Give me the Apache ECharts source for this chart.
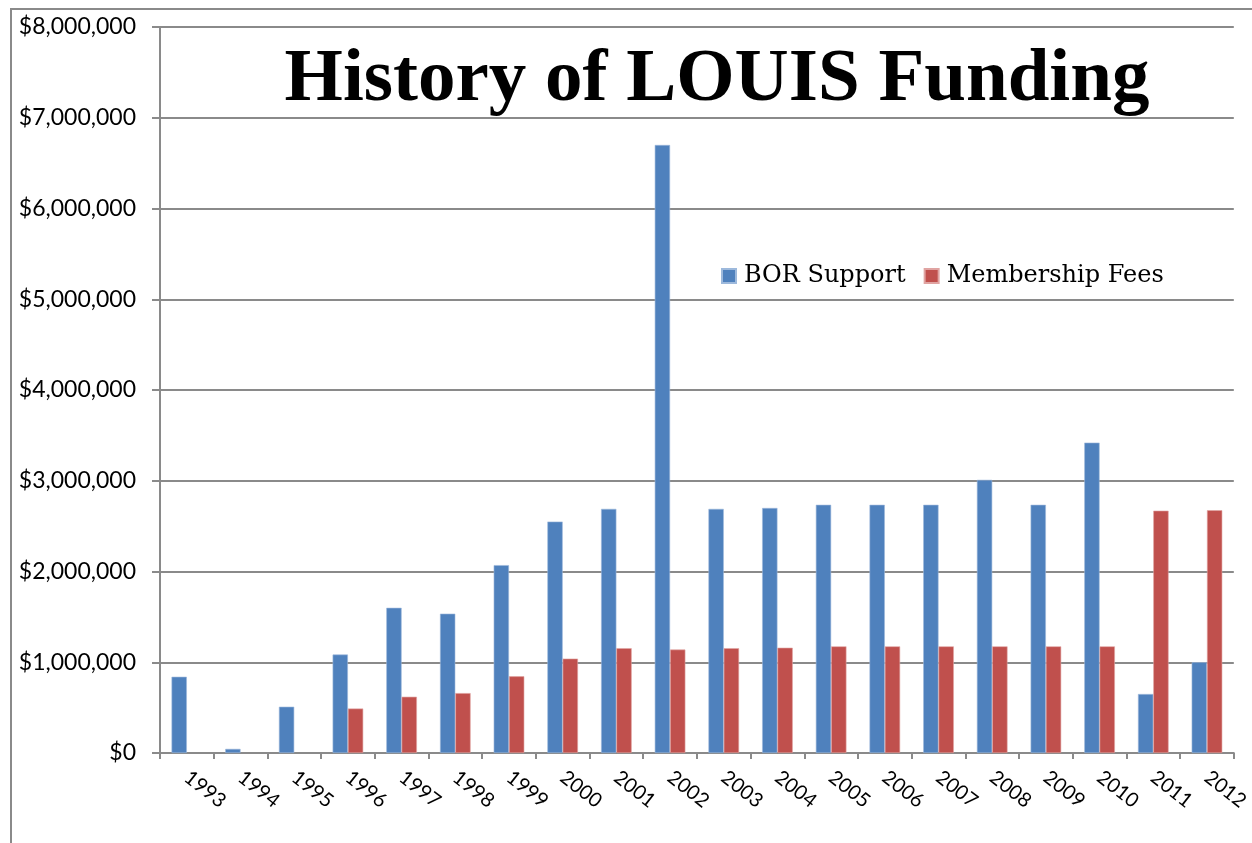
<!DOCTYPE html>
<html>
<head>
<meta charset="utf-8">
<title>History of LOUIS Funding</title>
<script src="https://cdn.jsdelivr.net/npm/echarts@6/dist/echarts.min.js"></script>
<style>
  html, body { margin: 0; padding: 0; background: #fff; }
  #chart { width: 1252px; height: 843px; }
</style>
</head>
<body>
<div id="chart"></div>
<script>
'use strict';
// years on the category axis
var years = ['1993', '1994', '1995', '1996', '1997', '1998', '1999', '2000', '2001', '2002',
  '2003', '2004', '2005', '2006', '2007', '2008', '2009', '2010', '2011', '2012'];

// BOR support (dollars)
var borSupport = [840000, 45000, 510000, 1085000, 1600000, 1535000, 2070000, 2550000, 2690000, 6700000,
  2690000, 2700000, 2735000, 2735000, 2735000, 3010000, 2735000, 3420000, 650000, 1000000];

// membership fees (dollars), none before 1996
var membershipFees = [null, null, null, 490000, 620000, 660000, 845000, 1040000, 1155000, 1140000,
  1155000, 1160000, 1175000, 1175000, 1175000, 1175000, 1175000, 1175000, 2670000, 2675000];

var yTicks = [0, 1000000, 2000000, 3000000, 4000000, 5000000, 6000000, 7000000, 8000000];

var gray = '#8a8a8a';
var chart = echarts.init(document.getElementById('chart'));

var option = {
  backgroundColor: '#fff',
  animation: false,
  title: {
    text: 'History of LOUIS Funding',
    left: 712,
    top: 38,
    textAlign: 'center',
    textStyle: {
      fontFamily: 'Liberation Serif',
      fontWeight: 'bold',
      fontSize: 75,
      color: '#000'
    }
  },
  legend: {
    left: 716,
    top: 259,
    itemWidth: 14,
    itemHeight: 14,
    itemGap: 18,
    icon: 'rect',
    textStyle: {
      fontFamily: 'DejaVu Serif',
      fontSize: 24,
      color: '#000',
      padding: [0, 0, 0, 3]
    },
    data: ['BOR Support', 'Membership Fees']
  },
  grid: {
    left: 160,
    right: 16,
    top: 27,
    bottom: 90
  },
  xAxis: {
    type: 'category',
    data: years,
    boundaryGap: true,
    axisLine: { show: true, lineStyle: { color: gray, width: 2 } },
    axisTick: { show: true, length: 6, lineStyle: { color: gray, width: 2 } },
    axisLabel: {
      rotate: -38,
      margin: 22,
      interval: 0,
      fontFamily: 'Lato',
      fontSize: 20,
      color: '#000'
    }
  },
  yAxis: {
    type: 'value',
    min: yTicks[0],
    max: yTicks[yTicks.length - 1],
    interval: 1000000,
    axisLine: { show: true, lineStyle: { color: gray, width: 2 } },
    axisTick: { show: true, inside: false, length: 8, lineStyle: { color: gray, width: 2 } },
    splitLine: { show: true, lineStyle: { color: gray, width: 2 } },
    axisLabel: {
      margin: 24,
      fontFamily: 'Lato',
      fontSize: 23,
      color: '#000',
      formatter: function (v) {
        return '$' + v.toLocaleString('en-US');
      }
    }
  },
  series: [
    {
      name: 'BOR Support',
      type: 'bar',
      data: borSupport,
      barGap: '0%',
      barCategoryGap: '43%',
      itemStyle: { color: '#4F81BD', borderColor: '#9db9dc', borderWidth: 0.6 }
    },
    {
      name: 'Membership Fees',
      type: 'bar',
      data: membershipFees,
      itemStyle: { color: '#C0504D', borderColor: '#e0a4a2', borderWidth: 0.6 }
    }
  ],
  // outer chart frame (left and top edges visible in the crop)
  graphic: [{
    type: 'polyline',
    shape: { points: [[11, 843], [11, 9], [1252, 9]] },
    style: { stroke: gray, lineWidth: 2, fill: null }
  }]
};

chart.setOption(option);
</script>
</body>
</html>
